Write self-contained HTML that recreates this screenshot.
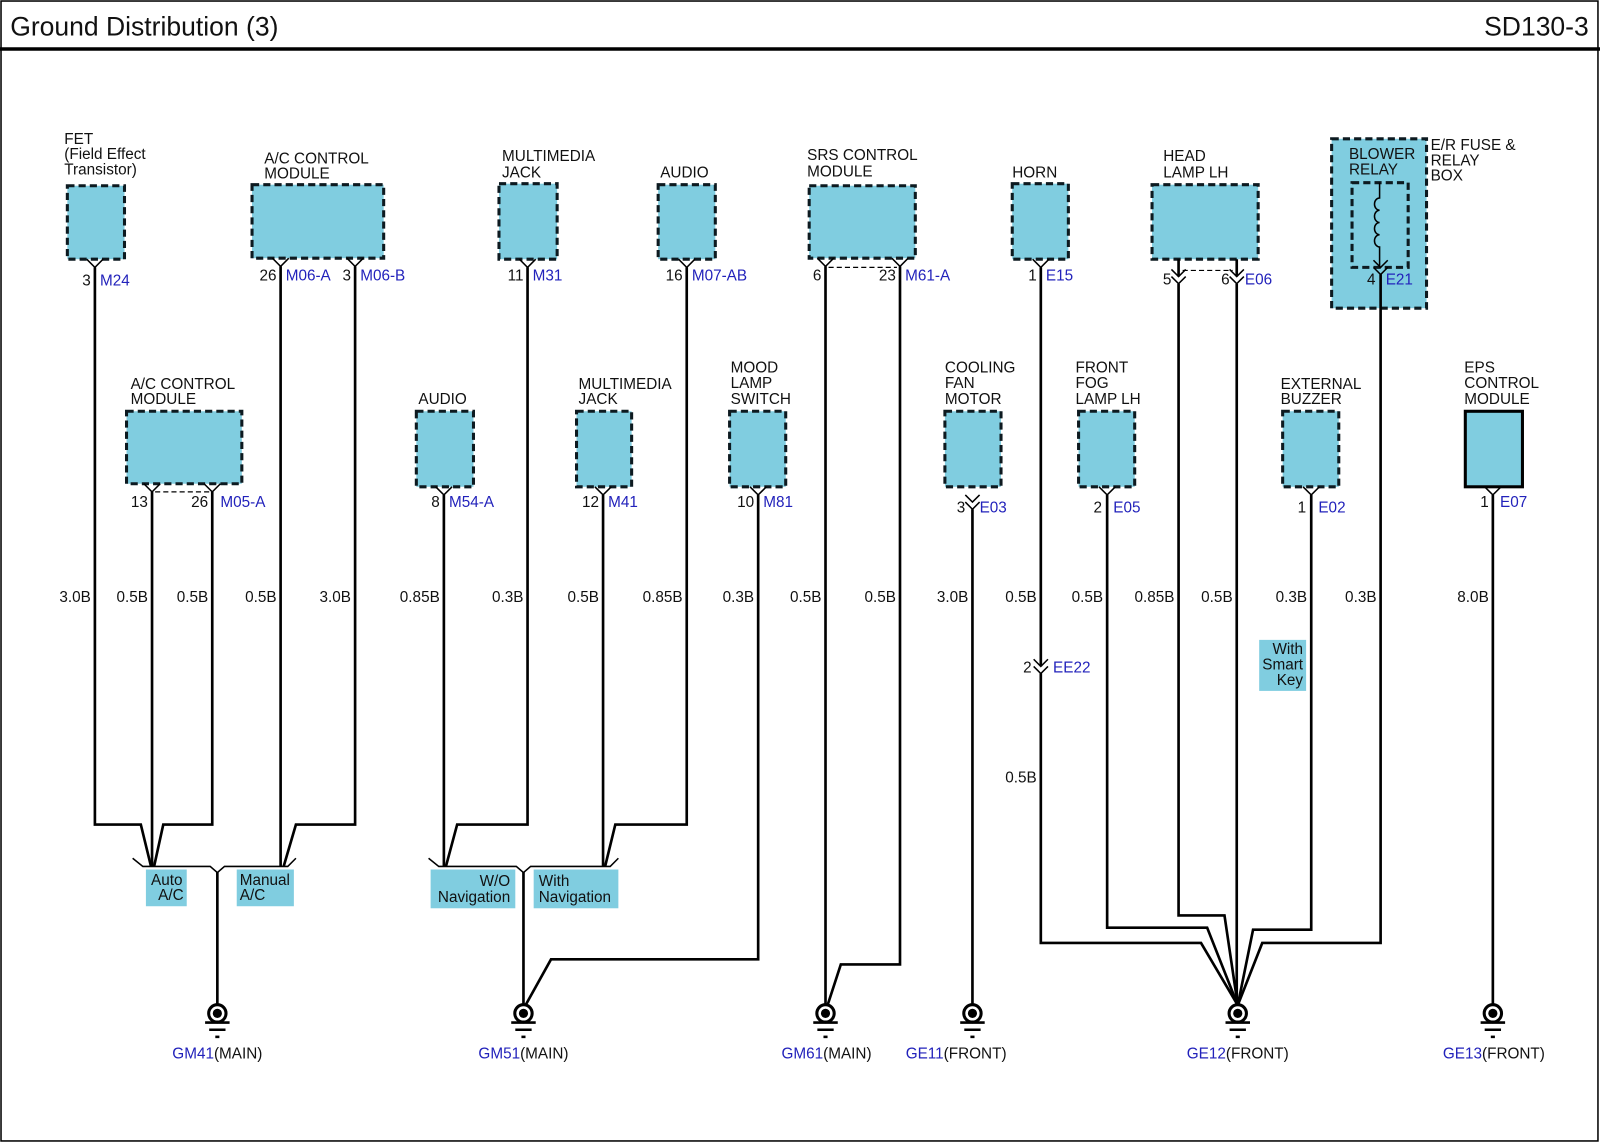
<!DOCTYPE html>
<html><head><meta charset="utf-8"><style>
html,body{margin:0;padding:0;background:#fff}
svg{display:block}
text{font-family:"Liberation Sans",Arial,sans-serif;font-size:15px;fill:#111}
.b{fill:#2222bb}
.bx{fill:#80cde0;stroke:#0d1a20;stroke-width:3;stroke-dasharray:7 4}
.w{fill:none;stroke:#000;stroke-width:2.6}
.t{fill:none;stroke:#000;stroke-width:1.5}
.d{fill:none;stroke:#000;stroke-width:1.2;stroke-dasharray:5 3}
.e{text-anchor:end}
.m{text-anchor:middle}
</style></head><body>
<svg width="1600" height="1143" viewBox="0 0 1568 1120" preserveAspectRatio="none" xmlns="http://www.w3.org/2000/svg">
<rect x="1" y="1" width="1565" height="1117" fill="none" stroke="#000" stroke-width="1.5"/>
<line x1="0" y1="48" x2="1568" y2="48" stroke="#000" stroke-width="3.5"/>
<text x="10" y="35" style="font-size:26px">Ground Distribution (3)</text>
<text x="1557" y="35" class="e" style="font-size:26px">SD130-3</text>

<rect class="bx" x="66" y="182" width="56" height="72"/>
<rect class="bx" x="247" y="181" width="129" height="72"/>
<rect class="bx" x="489" y="180" width="57" height="74"/>
<rect class="bx" x="645" y="181" width="56" height="73"/>
<rect class="bx" x="793" y="182" width="104" height="71"/>
<rect class="bx" x="992" y="180" width="55" height="74"/>
<rect class="bx" x="1129" y="181" width="104" height="73"/>
<rect class="bx" x="1305" y="136" width="93" height="166"/>
<rect class="bx" x="1325" y="179" width="55" height="83"/>
<rect class="bx" x="124" y="403" width="113" height="71"/>
<rect class="bx" x="408" y="403" width="56" height="74"/>
<rect class="bx" x="565" y="403" width="54" height="74"/>
<rect class="bx" x="715" y="403" width="55" height="74"/>
<rect class="bx" x="926" y="403" width="55" height="74"/>
<rect class="bx" x="1057" y="403" width="55" height="74"/>
<rect class="bx" x="1257" y="403" width="55" height="74"/>
<rect x="1436" y="403" width="56" height="74" fill="#80cde0" stroke="#000" stroke-width="3"/>

<text x="63" y="141">FET</text><text x="63" y="156">(Field Effect</text><text x="63" y="171">Transistor)</text>
<text x="259" y="160">A/C CONTROL</text><text x="259" y="175">MODULE</text>
<text x="492" y="158">MULTIMEDIA</text><text x="492" y="174">JACK</text>
<text x="647" y="174">AUDIO</text>
<text x="791" y="157">SRS CONTROL</text><text x="791" y="173">MODULE</text>
<text x="992" y="174">HORN</text>
<text x="1140" y="158">HEAD</text><text x="1140" y="174">LAMP LH</text>
<text x="1322" y="156">BLOWER</text><text x="1322" y="171">RELAY</text>
<text x="1402" y="147">E/R FUSE &amp;</text><text x="1402" y="162">RELAY</text><text x="1402" y="177">BOX</text>
<text x="128" y="381">A/C CONTROL</text><text x="128" y="396">MODULE</text>
<text x="410" y="396">AUDIO</text>
<text x="567" y="381">MULTIMEDIA</text><text x="567" y="396">JACK</text>
<text x="716" y="365">MOOD</text><text x="716" y="380">LAMP</text><text x="716" y="396">SWITCH</text>
<text x="926" y="365">COOLING</text><text x="926" y="380">FAN</text><text x="926" y="396">MOTOR</text>
<text x="1054" y="365">FRONT</text><text x="1054" y="380">FOG</text><text x="1054" y="396">LAMP LH</text>
<text x="1255" y="381">EXTERNAL</text><text x="1255" y="396">BUZZER</text>
<text x="1435" y="365">EPS</text><text x="1435" y="380">CONTROL</text><text x="1435" y="396">MODULE</text>

<g class="t">
<polyline points="85,254 93,262 101,254"/>
<polyline points="267,253 275,261 283,253"/>
<polyline points="340,253 348,261 356,253"/>
<polyline points="509,254 517,262 525,254"/>
<polyline points="665,254 673,262 681,254"/>
<polyline points="801,253 809,261 817,253"/>
<polyline points="874,253 882,261 890,253"/>
<polyline points="1012,254 1020,262 1028,254"/>
<polyline points="141,474 149,482 157,474"/>
<polyline points="200,474 208,482 216,474"/>
<polyline points="427,477 435,485 443,477"/>
<polyline points="583,477 591,485 599,477"/>
<polyline points="735,477 743,485 751,477"/>
<polyline points="1077,477 1085,485 1093,477"/>
<polyline points="1277,477 1285,485 1293,477"/>
<polyline points="1455,477 1463,485 1471,477"/>
<polyline points="1148,264 1155,271 1162,264"/><polyline points="1148,271 1155,278 1162,271"/>
<polyline points="1205,264 1212,271 1219,264"/><polyline points="1205,271 1212,278 1219,271"/>
<polyline points="946,485 953,492 960,485"/><polyline points="946,492 953,499 960,492"/>
<polyline points="1013,646 1020,653 1027,646"/><polyline points="1013,653 1020,660 1027,653"/>
<polyline points="1346,255 1353,262 1360,255"/><polyline points="1346,262 1353,269 1360,262"/>
</g>
<line class="d" x1="812" y1="262" x2="879" y2="262"/>
<line class="d" x1="1159" y1="265" x2="1208" y2="265"/>
<line class="d" x1="152" y1="482" x2="205" y2="482"/>
<path class="t" d="M1352,179 V194 a5,6 0 0 0 0,12 a5,6 0 0 0 0,12 a5,6 0 0 0 0,12 a5,6 0 0 0 0,12 V262"/>

<text x="89" y="280" class="e">3</text><text x="98" y="280" class="b">M24</text>
<text x="271" y="275" class="e">26</text><text x="280" y="275" class="b">M06-A</text>
<text x="344" y="275" class="e">3</text><text x="353" y="275" class="b">M06-B</text>
<text x="513" y="275" class="e">11</text><text x="522" y="275" class="b">M31</text>
<text x="669" y="275" class="e">16</text><text x="678" y="275" class="b">M07-AB</text>
<text x="805" y="275" class="e">6</text>
<text x="878" y="275" class="e">23</text><text x="887" y="275" class="b">M61-A</text>
<text x="1016" y="275" class="e">1</text><text x="1025" y="275" class="b">E15</text>
<text x="1148" y="279" class="e">5</text>
<text x="1205" y="279" class="e">6</text><text x="1220" y="279" class="b">E06</text>
<text x="1348" y="279" class="e">4</text><text x="1358" y="279" class="b">E21</text>
<text x="145" y="497" class="e">13</text>
<text x="204" y="497" class="e">26</text><text x="216" y="497" class="b">M05-A</text>
<text x="431" y="497" class="e">8</text><text x="440" y="497" class="b">M54-A</text>
<text x="587" y="497" class="e">12</text><text x="596" y="497" class="b">M41</text>
<text x="739" y="497" class="e">10</text><text x="748" y="497" class="b">M81</text>
<text x="946" y="502" class="e">3</text><text x="960" y="502" class="b">E03</text>
<text x="1080" y="502" class="e">2</text><text x="1091" y="502" class="b">E05</text>
<text x="1280" y="502" class="e">1</text><text x="1292" y="502" class="b">E02</text>
<text x="1459" y="497" class="e">1</text><text x="1470" y="497" class="b">E07</text>
<text x="1011" y="659" class="e">2</text><text x="1032" y="659" class="b">EE22</text>

<g class="e">
<text x="89" y="590">3.0B</text><text x="145" y="590">0.5B</text><text x="204" y="590">0.5B</text>
<text x="271" y="590">0.5B</text><text x="344" y="590">3.0B</text><text x="431" y="590">0.85B</text>
<text x="513" y="590">0.3B</text><text x="587" y="590">0.5B</text><text x="669" y="590">0.85B</text>
<text x="739" y="590">0.3B</text><text x="805" y="590">0.5B</text><text x="878" y="590">0.5B</text>
<text x="949" y="590">3.0B</text><text x="1016" y="590">0.5B</text><text x="1081" y="590">0.5B</text>
<text x="1151" y="590">0.85B</text><text x="1208" y="590">0.5B</text><text x="1281" y="590">0.3B</text>
<text x="1349" y="590">0.3B</text><text x="1459" y="590">8.0B</text>
<text x="1016" y="767">0.5B</text>
</g>

<g class="w">
<polyline points="93,262 93,808 138,808 148,849"/>
<polyline points="149,482 149,849"/>
<polyline points="208,482 208,808 160,808 151,849"/>
<polyline points="275,261 275,849"/>
<polyline points="348,261 348,808 290,808 278,849"/>
<line x1="213" y1="855" x2="213" y2="985"/>
<polyline points="435,485 435,849"/>
<polyline points="517,262 517,808 448,808 437,849"/>
<polyline points="591,485 591,849"/>
<polyline points="673,262 673,808 603,808 593,849"/>
<line x1="513" y1="855" x2="513" y2="985"/>
<polyline points="743,485 743,940 540,940 515,985"/>
<line x1="809" y1="261" x2="809" y2="985"/>
<polyline points="882,261 882,945 824,945 811,985"/>
<line x1="953" y1="499" x2="953" y2="985"/>
<polyline points="1020,262 1020,653"/>
<polyline points="1020,660 1020,924 1177,924 1213,985"/>
<polyline points="1085,485 1085,909 1183,909 1213,985"/>
<polyline points="1155,254 1155,271"/>
<polyline points="1155,278 1155,897 1200,897 1213,985"/>
<polyline points="1212,254 1212,271"/>
<polyline points="1212,278 1212,985"/>
<polyline points="1285,485 1285,911 1228,911 1213,985"/>
<polyline points="1353,269 1353,924 1237,924 1213,985"/>
<line x1="1463" y1="485" x2="1463" y2="985"/>
</g>
<polyline class="t" points="130,841 140,849 206,849 213,855 220,849 282,849 290,841"/>
<polyline class="t" points="420,841 430,849 506,849 513,855 520,849 598,849 606,841"/>

<rect x="143" y="852" width="40" height="36" fill="#80cde0"/>
<text x="148" y="867">Auto</text><text x="180" y="882" class="e">A/C</text>
<rect x="232" y="852" width="56" height="36" fill="#80cde0"/>
<text x="235" y="867">Manual</text><text x="235" y="882">A/C</text>
<rect x="422" y="852" width="83" height="38" fill="#80cde0"/>
<text x="500" y="868" class="e">W/O</text><text x="500" y="884" class="e">Navigation</text>
<rect x="523" y="852" width="83" height="38" fill="#80cde0"/>
<text x="528" y="868">With</text><text x="528" y="884">Navigation</text>
<rect x="1234" y="627" width="46" height="50" fill="#80cde0"/>
<text x="1277" y="641" class="e">With</text><text x="1277" y="656" class="e">Smart</text><text x="1277" y="671" class="e">Key</text>

<g id="gr">
<g transform="translate(213,0)">
<circle cx="0" cy="993" r="8.5" fill="#fff" stroke="#000" stroke-width="3"/><circle cx="0" cy="993" r="4.5" fill="#000"/>
<line x1="-12" y1="1002" x2="12" y2="1002" stroke="#000" stroke-width="2.5"/>
<line x1="-8" y1="1009" x2="8" y2="1009" stroke="#000" stroke-width="2.5"/>
<line x1="-2" y1="1016" x2="2" y2="1016" stroke="#000" stroke-width="2.5"/>
</g></g>
<use href="#gr" transform="translate(300,0)"/>
<use href="#gr" transform="translate(596,0)"/>
<use href="#gr" transform="translate(740,0)"/>
<use href="#gr" transform="translate(1000,0)"/>
<use href="#gr" transform="translate(1250,0)"/>
<text x="213" y="1037" class="m"><tspan class="b">GM41</tspan>(MAIN)</text>
<text x="513" y="1037" class="m"><tspan class="b">GM51</tspan>(MAIN)</text>
<text x="810" y="1037" class="m"><tspan class="b">GM61</tspan>(MAIN)</text>
<text x="937" y="1037" class="m"><tspan class="b">GE11</tspan>(FRONT)</text>
<text x="1213" y="1037" class="m"><tspan class="b">GE12</tspan>(FRONT)</text>
<text x="1464" y="1037" class="m"><tspan class="b">GE13</tspan>(FRONT)</text>
</svg>
</body></html>
